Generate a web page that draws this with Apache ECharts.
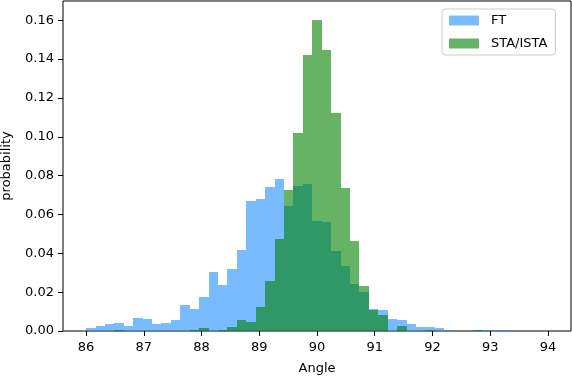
<!DOCTYPE html>
<html>
<head>
<meta charset="utf-8">
<script src="https://cdn.jsdelivr.net/npm/echarts@6/dist/echarts.min.js"></script>
<style>html,body{margin:0;padding:0;background:#fff}#c{width:572px;height:376px}</style>
</head>
<body>
<div id="c"></div>
<script>
// Histogram bins: 49 equal bins from 86 to 94
var binStart = 86, binEnd = 94, binCount = 49;
var seriesNames = ['FT', 'STA/ISTA'];
var ftValues = [0.0016,0.0028,0.0038,0.0043,0.0028,0.0069,0.0064,0.0038,0.0043,0.0058,
  0.0135,0.0114,0.0176,0.0305,0.0238,0.0320,0.0415,0.0667,0.0680,0.0742,
  0.0784,0.0645,0.0748,0.0758,0.0568,0.0562,0.0413,0.0336,0.0243,0.0202,
  0.0115,0.0108,0.0063,0.0058,0.0037,0.0022,0.0022,0.0017,0.0006,0,
  0,0,0.0005,0,0.0005,0,0,0,0];
var staValues = [0,0,0,0.0006,0,0,0,0,0,0,
  0,0.0006,0.0017,0,0.0006,0.0022,0.0058,0.0048,0.0125,0.0259,
  0.0475,0.0727,0.1020,0.1422,0.1602,0.1447,0.1123,0.0737,0.0465,0.0233,
  0.0110,0.0084,0,0.0027,0,0,0.0007,0,0,0,
  0,0.0006,0,0,0,0,0,0,0];
var xTicks = [86,87,88,89,90,91,92,93,94];
var yTicks = [0,0.02,0.04,0.06,0.08,0.10,0.12,0.14,0.16];

var binWidth = (binEnd - binStart) / binCount;
function toData(vals){
  return vals.map(function(v,i){ return [binStart + i*binWidth, binStart + (i+1)*binWidth, v]; });
}
function renderBar(params, api){
  var p0 = api.coord([api.value(0), api.value(2)]);
  var p1 = api.coord([api.value(1), 0]);
  var x0 = Math.round(p0[0]), x1 = Math.round(p1[0]);
  var y0 = Math.round(p0[1]), y1 = Math.round(p1[1]);
  return {
    type: 'rect',
    shape: {x: x0, y: y0, width: x1 - x0, height: y1 - y0},
    style: {fill: api.visual('color')}
  };
}
var chart = echarts.init(document.getElementById('c'), null, {renderer:'canvas'});
var font = 'DejaVu Sans';
chart.setOption({
  animation: false,
  textStyle: {fontFamily: font},
  grid: {left: 63, top: 1, width: 508, height: 330, outerBoundsMode: 'none', containLabel: false,
    show: true, borderColor: '#000', borderWidth: 1, backgroundColor: 'transparent'},
  legend: {
    orient: 'vertical', left: 442, top: 9, itemWidth: 30, itemHeight: 10, itemGap: 10,
    padding: [5, 8, 5, 7], borderColor: '#cccccc', borderWidth: 1, borderRadius: 3, backgroundColor: 'rgba(255,255,255,0.8)',
    textStyle: {fontFamily: font, fontSize: 13, color: '#000', padding: [0,0,0,7]},
    data: [
      {name: seriesNames[0], icon: 'rect', itemStyle: {color: '#78bcff', opacity: 1}},
      {name: seriesNames[1], icon: 'rect', itemStyle: {color: '#66b366', opacity: 1}}
    ]
  },
  xAxis: {
    type: 'value', min: 85.6, max: 94.4,
    name: 'Angle', nameLocation: 'middle', nameGap: 31,
    nameTextStyle: {fontFamily: font, fontSize: 13, color: '#000'},
    axisLine: {show: false},
    splitLine: {show: false},
    axisTick: {show: true, length: 5, customValues: xTicks, lineStyle: {color: '#000'}},
    axisLabel: {customValues: xTicks, margin: 10, fontFamily: font, fontSize: 13, color: '#000'}
  },
  yAxis: {
    type: 'value', min: 0, max: 0.1699,
    name: 'probability', nameLocation: 'middle', nameGap: 50,
    nameTextStyle: {fontFamily: font, fontSize: 13, color: '#000'},
    axisLine: {show: false},
    splitLine: {show: false},
    axisTick: {show: true, length: 5, customValues: yTicks, lineStyle: {color: '#000'}},
    axisLabel: {customValues: yTicks, margin: 9, fontFamily: font, fontSize: 13, color: '#000',
      formatter: function(v){ return v.toFixed(2); }}
  },
  series: [
    {name: seriesNames[0], type: 'custom', renderItem: renderBar, data: toData(ftValues),
      encode: {x: [0,1], y: 2}, itemStyle: {color: 'rgba(30,144,255,0.6)'}},
    {name: seriesNames[1], type: 'custom', renderItem: renderBar, data: toData(staValues),
      encode: {x: [0,1], y: 2}, itemStyle: {color: 'rgba(0,128,0,0.6)'}}
  ]
});
</script>
</body>
</html>
